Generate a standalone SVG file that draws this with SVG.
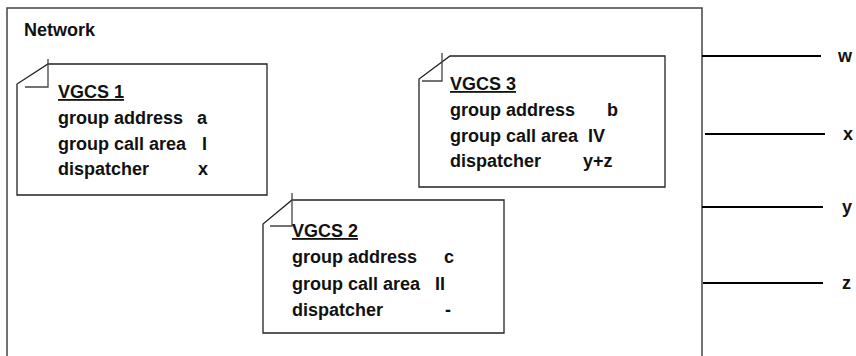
<svg xmlns="http://www.w3.org/2000/svg" width="856" height="356" viewBox="0 0 856 356">
  <style>
    text { font-family: "Liberation Sans", Arial, sans-serif; font-weight: bold; font-size: 18px; fill: #111; }
    .frame { fill: none; stroke: #444; stroke-width: 1.5; }
    .note { fill: #fff; stroke: #222; stroke-width: 1.3; }
    .fold { fill: none; stroke: #444; stroke-width: 1.3; }
    .title { text-decoration: underline; }
    .link { stroke: #000; stroke-width: 2; }
  </style>

  <!-- network boundary (open at the bottom) -->
  <g id="network">
    <polyline class="frame" points="7,360 7,8 702,8 702,360"/>
    <text x="24" y="36">Network</text>
  </g>

  <!-- VGCS 1 note -->
  <g id="vgcs1">
    <path class="note" d="M48,64 H267 V195 H17 V84 Z"/>
    <polyline class="fold" points="48,59 48,87 25,87"/>
    <text x="58" y="98" class="title">VGCS 1</text>
    <text x="58" y="124">group address<tspan x="197">a</tspan></text>
    <text x="58" y="150">group call area<tspan x="202">I</tspan></text>
    <text x="58" y="175">dispatcher<tspan x="198">x</tspan></text>
  </g>

  <!-- VGCS 3 note -->
  <g id="vgcs3">
    <path class="note" d="M450,56 H665 V187 H419 V79 Z"/>
    <polyline class="fold" points="442,53 442,81 422,81"/>
    <text x="450" y="90" class="title">VGCS 3</text>
    <text x="450" y="116">group address<tspan x="607">b</tspan></text>
    <text x="450" y="142">group call area<tspan x="588">IV</tspan></text>
    <text x="450" y="167">dispatcher<tspan x="583">y+z</tspan></text>
  </g>

  <!-- VGCS 2 note -->
  <g id="vgcs2">
    <path class="note" d="M292,200 H504 V333 H263 V224 Z"/>
    <polyline class="fold" points="292,193 292,226 270,226"/>
    <text x="292" y="237" class="title">VGCS 2</text>
    <text x="292" y="263">group address<tspan x="444">c</tspan></text>
    <text x="292" y="290">group call area<tspan x="435">II</tspan></text>
    <text x="292" y="316">dispatcher<tspan x="445">-</tspan></text>
  </g>

  <!-- external interfaces -->
  <g id="connectors">
    <line class="link" x1="702" y1="56" x2="821" y2="56"/>
    <line class="link" x1="705" y1="134" x2="825" y2="134"/>
    <line class="link" x1="702" y1="207" x2="823" y2="207"/>
    <line class="link" x1="703" y1="283" x2="823" y2="283"/>
  </g>
  <g id="labels">
    <text x="838" y="62">w</text>
    <text x="843" y="140">x</text>
    <text x="842" y="213">y</text>
    <text x="842" y="289">z</text>
  </g>
</svg>
